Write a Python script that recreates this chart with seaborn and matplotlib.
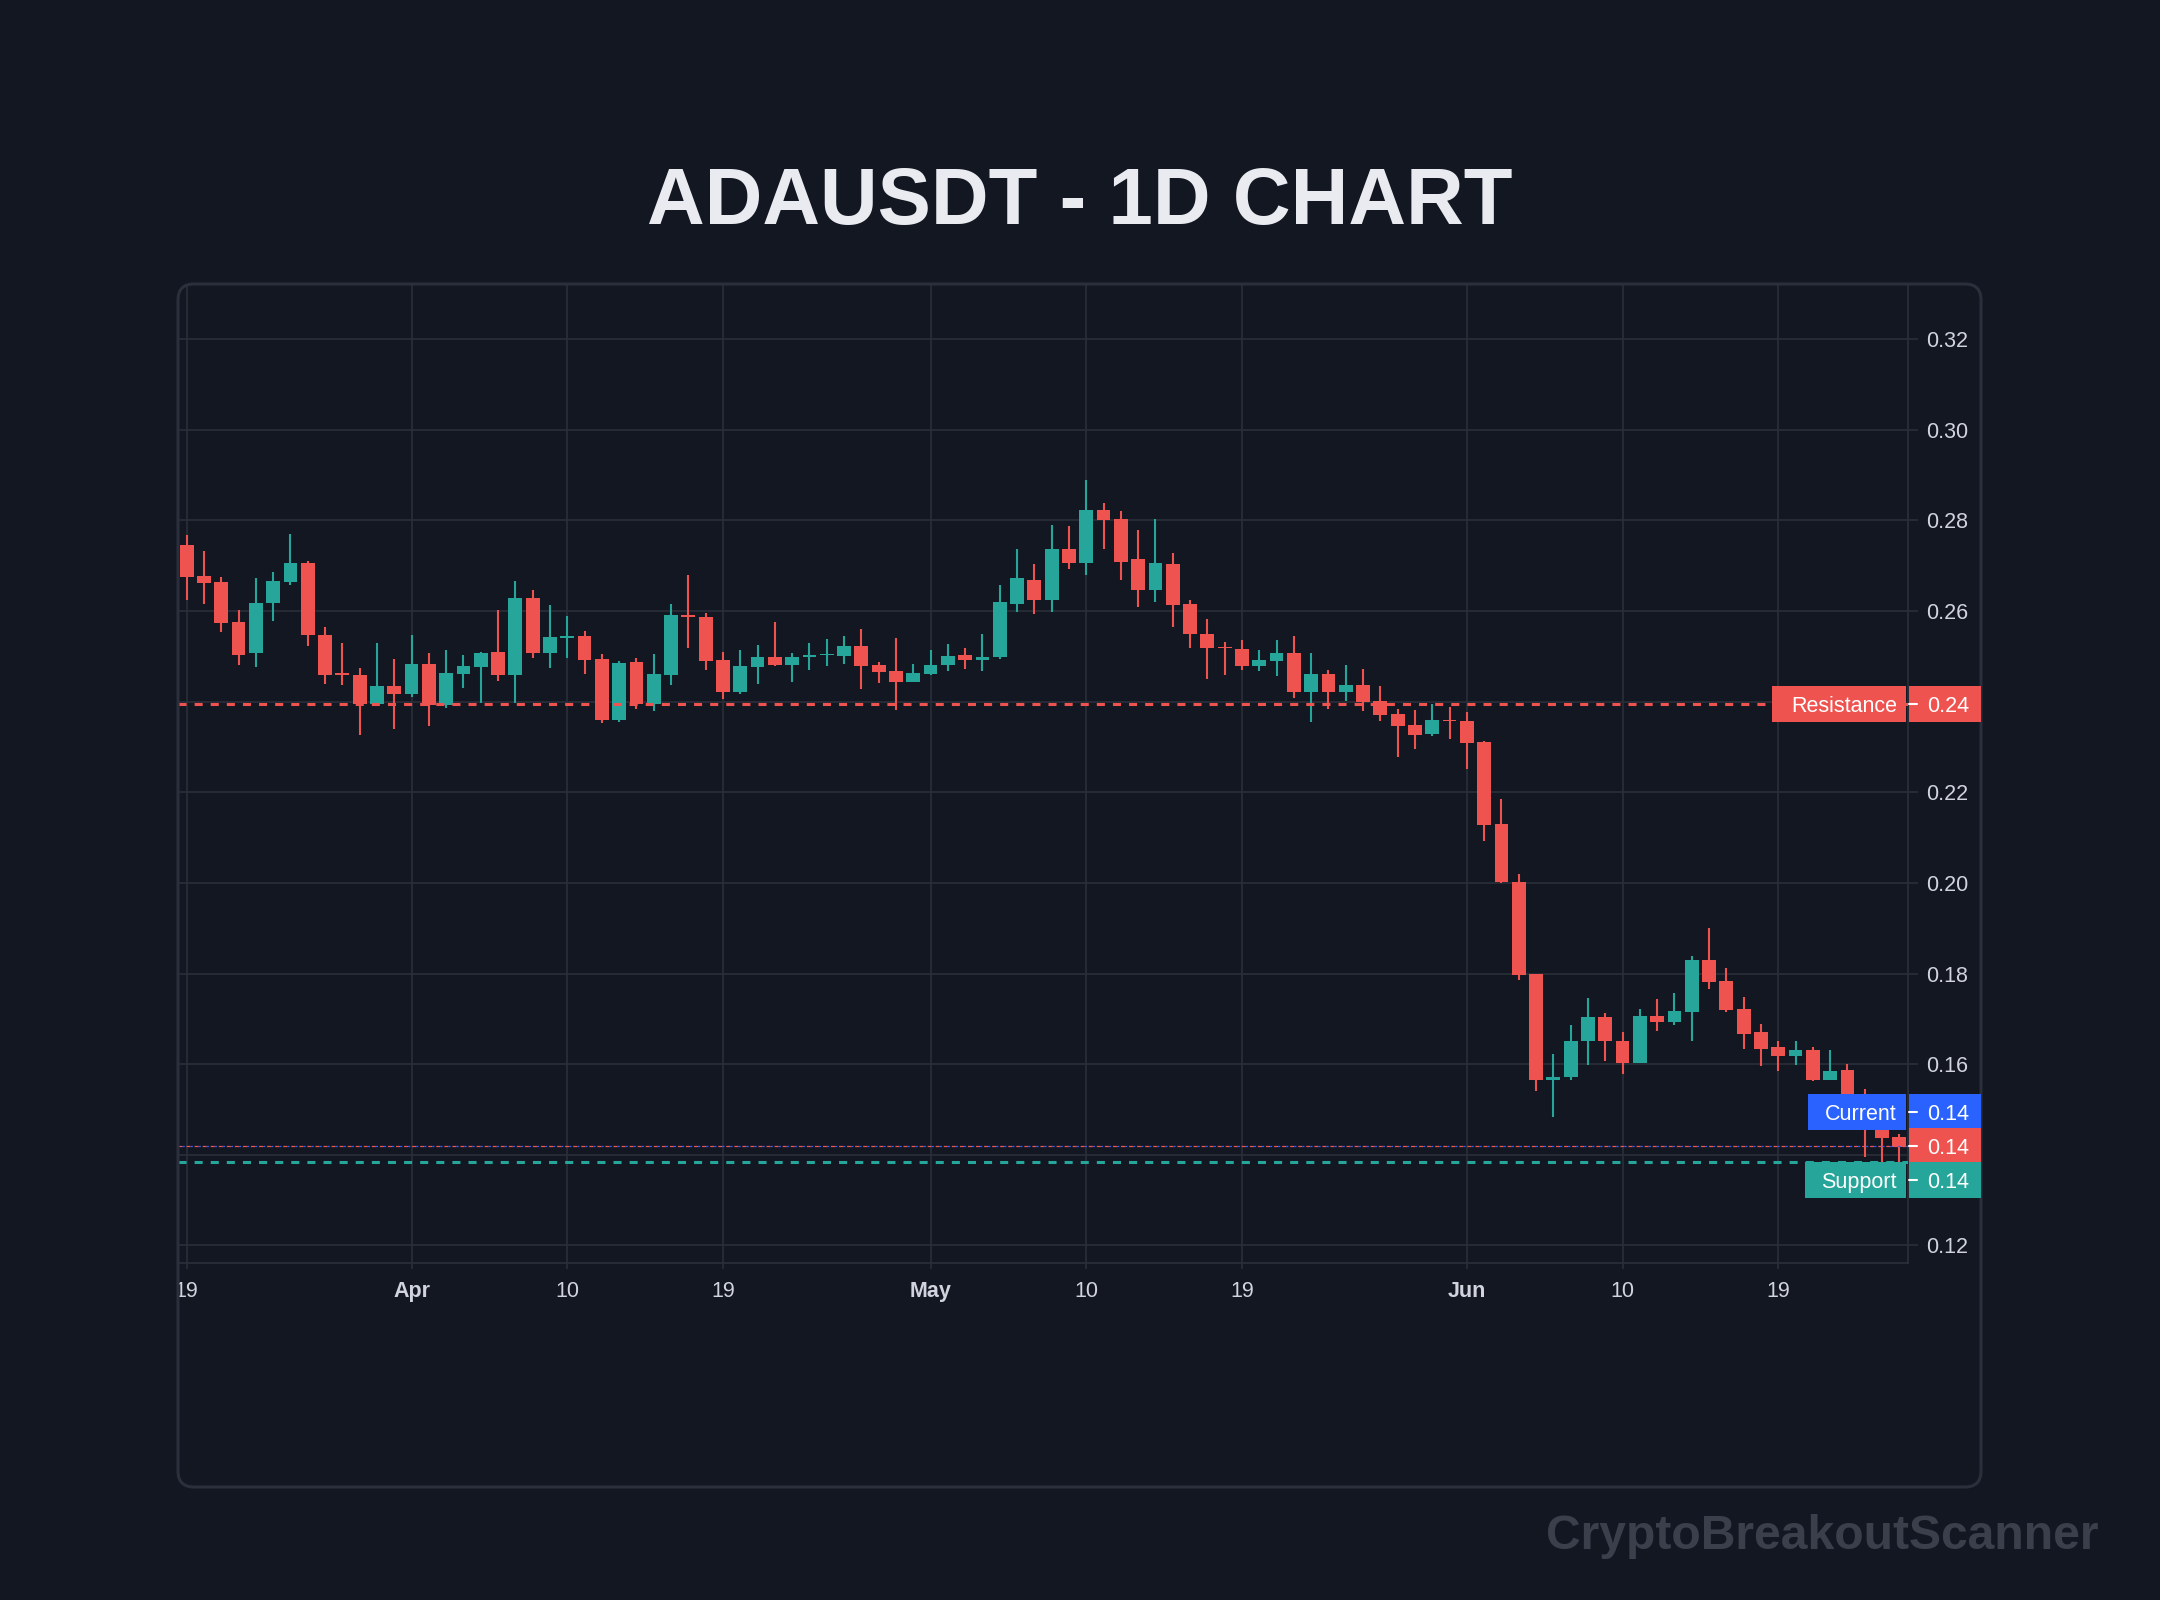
import numpy as np
import pandas as pd
import matplotlib
matplotlib.use("Agg")
import matplotlib.pyplot as plt
import matplotlib.dates as mdates
import seaborn as sns
from matplotlib.patches import FancyBboxPatch, Rectangle
from matplotlib.transforms import IdentityTransform, Bbox, TransformedBbox
from matplotlib.lines import Line2D

# ---------------- data ----------------
dates = pd.date_range("2023-03-19", "2023-06-26", freq="D")

opens = [0.2746, 0.2677, 0.2664, 0.2575, 0.2507, 0.2617, 0.2664, 0.2706, 0.2548, 0.2461,
         0.2459, 0.2395, 0.2435, 0.2417, 0.2484, 0.2393, 0.2462, 0.2477, 0.2510, 0.2459,
         0.2628, 0.2507, 0.2541, 0.2544, 0.2495, 0.2359, 0.2488, 0.2395, 0.2459, 0.2590,
         0.2587, 0.2492, 0.2421, 0.2477, 0.2499, 0.2481, 0.2499, 0.2502, 0.2501, 0.2523,
         0.2481, 0.2468, 0.2444, 0.2461, 0.2481, 0.2503, 0.2492, 0.2499, 0.2616, 0.2669,
         0.2625, 0.2736, 0.2707, 0.2824, 0.2804, 0.2714, 0.2647, 0.2705, 0.2616, 0.2550,
         0.2519, 0.2517, 0.2479, 0.2490, 0.2508, 0.2421, 0.2461, 0.2421, 0.2437, 0.2401,
         0.2373, 0.2348, 0.2328, 0.2359, 0.2357, 0.2311, 0.2130, 0.2003, 0.1798, 0.1564,
         0.1572, 0.1650, 0.1703, 0.1652, 0.1603, 0.1707, 0.1694, 0.1716, 0.1829, 0.1784,
         0.1722, 0.1670, 0.1637, 0.1619, 0.1632, 0.1564, 0.1586, 0.1513, 0.1478, 0.1439]
highs = [0.2768, 0.2733, 0.2675, 0.2602, 0.2673, 0.2686, 0.2771, 0.2710, 0.2564, 0.2530,
         0.2475, 0.2530, 0.2495, 0.2548, 0.2508, 0.2515, 0.2502, 0.2510, 0.2602, 0.2666,
         0.2646, 0.2613, 0.2590, 0.2555, 0.2506, 0.2490, 0.2497, 0.2506, 0.2616, 0.2680,
         0.2596, 0.2510, 0.2514, 0.2525, 0.2576, 0.2508, 0.2530, 0.2539, 0.2545, 0.2561,
         0.2488, 0.2541, 0.2483, 0.2514, 0.2528, 0.2519, 0.2550, 0.2658, 0.2738, 0.2705,
         0.2789, 0.2787, 0.2889, 0.2838, 0.2820, 0.2778, 0.2804, 0.2729, 0.2625, 0.2583,
         0.2532, 0.2537, 0.2514, 0.2537, 0.2545, 0.2508, 0.2470, 0.2481, 0.2472, 0.2435,
         0.2384, 0.2382, 0.2395, 0.2388, 0.2377, 0.2313, 0.2185, 0.2019, 0.1798, 0.1623,
         0.1687, 0.1745, 0.1712, 0.1670, 0.1721, 0.1743, 0.1758, 0.1838, 0.1900, 0.1813,
         0.1749, 0.1689, 0.1650, 0.1650, 0.1637, 0.1632, 0.1601, 0.1544, 0.1509, 0.1445]
lows = [0.2624, 0.2616, 0.2553, 0.2480, 0.2476, 0.2579, 0.2657, 0.2524, 0.2439, 0.2437,
        0.2326, 0.2392, 0.2339, 0.2410, 0.2346, 0.2386, 0.2430, 0.2397, 0.2446, 0.2397,
        0.2497, 0.2475, 0.2497, 0.2462, 0.2353, 0.2355, 0.2384, 0.2379, 0.2437, 0.2519,
        0.2470, 0.2406, 0.2417, 0.2439, 0.2479, 0.2444, 0.2470, 0.2479, 0.2483, 0.2428,
        0.2441, 0.2382, 0.2444, 0.2459, 0.2468, 0.2472, 0.2468, 0.2494, 0.2599, 0.2594,
        0.2599, 0.2694, 0.2680, 0.2738, 0.2669, 0.2610, 0.2621, 0.2565, 0.2519, 0.2450,
        0.2459, 0.2470, 0.2468, 0.2457, 0.2408, 0.2355, 0.2384, 0.2401, 0.2379, 0.2357,
        0.2277, 0.2295, 0.2324, 0.2317, 0.2251, 0.2092, 0.1999, 0.1785, 0.1541, 0.1484,
        0.1566, 0.1597, 0.1606, 0.1579, 0.1603, 0.1674, 0.1687, 0.1652, 0.1765, 0.1716,
        0.1634, 0.1595, 0.1584, 0.1597, 0.1562, 0.1564, 0.1491, 0.1395, 0.1381, 0.1384]
closes = [0.2676, 0.2662, 0.2573, 0.2504, 0.2617, 0.2666, 0.2706, 0.2547, 0.2459, 0.2460,
          0.2395, 0.2435, 0.2417, 0.2484, 0.2393, 0.2464, 0.2479, 0.2508, 0.2459, 0.2628,
          0.2507, 0.2542, 0.2542, 0.2493, 0.2359, 0.2486, 0.2395, 0.2461, 0.2592, 0.2588,
          0.2490, 0.2421, 0.2479, 0.2499, 0.2481, 0.2499, 0.2500, 0.2503, 0.2523, 0.2479,
          0.2466, 0.2444, 0.2463, 0.2481, 0.2501, 0.2492, 0.2499, 0.2621, 0.2672, 0.2625,
          0.2736, 0.2707, 0.2824, 0.2802, 0.2709, 0.2647, 0.2707, 0.2614, 0.2550, 0.2519,
          0.2518, 0.2479, 0.2492, 0.2508, 0.2421, 0.2461, 0.2421, 0.2437, 0.2400, 0.2370,
          0.2346, 0.2326, 0.2359, 0.2357, 0.2309, 0.2127, 0.2001, 0.1796, 0.1564, 0.1572,
          0.1652, 0.1703, 0.1650, 0.1603, 0.1707, 0.1694, 0.1718, 0.1829, 0.1782, 0.1720,
          0.1667, 0.1634, 0.1619, 0.1632, 0.1564, 0.1584, 0.1513, 0.1476, 0.1436, 0.1417]

resistance = 0.2396
support = 0.1384
current_price = 0.1419

x_tick_dates = ["2023-03-19", "2023-04-01", "2023-04-10", "2023-04-19", "2023-05-01",
                "2023-05-10", "2023-05-19", "2023-06-01", "2023-06-10", "2023-06-19"]
x_tick_labels = ["19", "Apr", "10", "19", "May", "10", "19", "Jun", "10", "19"]
month_labels = ["Apr", "May", "Jun"]
y_ticks = [0.12, 0.14, 0.16, 0.18, 0.20, 0.22, 0.24, 0.26, 0.28, 0.30, 0.32]
y_tick_labels = ["0.12", "0.14", "0.16", "0.18", "0.20", "0.22", "0.24", "0.26", "0.28", "0.30", "0.32"]
y_limits = (0.1161, 0.3322)

title = "ADAUSDT - 1D CHART"
watermark = "CryptoBreakoutScanner"
label_resistance = "Resistance"
label_current = "Current"
label_support = "Support"

# ---------------- style ----------------
W, H = 2160, 1600
BG = "#131722"
GRID = "#2a2e39"
BORDER = "#2b2f3b"
UP = "#26a69a"
DOWN = "#ef5350"
BLUE = "#2962ff"
TXT = "#d1d4dc"
FS = 15.5

sns.set_theme(style="dark", rc={"axes.facecolor": BG, "figure.facecolor": BG,
                                 "savefig.facecolor": BG, "lines.scale_dashes": False})
plt.rcParams["font.family"] = ["Liberation Sans", "DejaVu Sans"]

fig = plt.figure(figsize=(W / 100, H / 100), dpi=100, facecolor=BG)

# plot area (pixel layout)
L, R, T, B = 178, 1908, 284, 1263
ax = fig.add_axes([L / W, 1 - B / H, (R - L) / W, (B - T) / H])
ax.set_facecolor(BG)

xnum = mdates.date2num(dates)
o = np.array(opens); h = np.array(highs); lo = np.array(lows); c = np.array(closes)
cols = np.where(c >= o, UP, DOWN)

ax.vlines(xnum, lo, h, colors=cols, linewidth=1.5, zorder=3)
body_bottom = np.minimum(o, c)
body_h = np.maximum(np.abs(c - o), 0.0003)
ax.bar(xnum, body_h, bottom=body_bottom, width=0.8, color=cols, linewidth=0, zorder=4)

# price lines
ax.axhline(resistance, color=DOWN, lw=2.2, linestyle=(0, (5.8, 5.8)), zorder=5)
ax.axhline(support, color=UP, lw=2.2, linestyle=(0, (5.8, 5.8)), zorder=5)
ax.axhline(current_price, color=DOWN, lw=0.9, linestyle=(0, (2.9, 2.9)), zorder=5)
ax.axhline(current_price, color=BLUE, lw=0.9, linestyle=(2.9, (1.6, 4.2)), zorder=5)

ax.set_xlim(xnum[0] - 0.5, xnum[-1] + 0.5)
ax.set_ylim(*y_limits)

ax.set_xticks(mdates.date2num(pd.to_datetime(x_tick_dates)))
ax.set_xticklabels(x_tick_labels)
ax.set_yticks(y_ticks)
ax.set_yticklabels(y_tick_labels)
ax.yaxis.tick_right()

ax.grid(True, color=GRID, linewidth=1.2)
ax.set_axisbelow(True)
for s in ["top", "left"]:
    ax.spines[s].set_visible(False)
for s in ["right", "bottom"]:
    ax.spines[s].set_visible(True)
    ax.spines[s].set_color(GRID)
    ax.spines[s].set_linewidth(1.3)

ax.tick_params(axis="x", colors=TXT, labelsize=FS, length=4.3, width=1.2, color=GRID, pad=9,
               bottom=True)
ax.tick_params(axis="y", colors=TXT, labelsize=FS, length=7.2, width=1.2, color=GRID, pad=5.8,
               right=True, left=False)
ax.set_xlabel("")
ax.set_ylabel("")

clip = TransformedBbox(Bbox([[179, 0], [W, H]]), IdentityTransform())
for lbl in ax.get_xticklabels():
    if lbl.get_text() in month_labels:
        lbl.set_fontweight("bold")
    lbl.set_clip_box(clip)
    lbl.set_clip_on(True)

# card frame
card = FancyBboxPatch((L, H - 1487), 1981 - L, 1487 - T,
                      boxstyle="round,pad=0,rounding_size=16",
                      transform=IdentityTransform(), facecolor="none",
                      edgecolor=BORDER, linewidth=2.2, zorder=20)
fig.add_artist(card)

# ---------------- price labels ----------------
def py(v):
    return ax.transData.transform((xnum[0], v))[1]

BOX_H = 36
STEP = 34
AX_L, AX_R = 1909, 1981
box_centers = []


def axis_box(yc, color, text):
    box_centers.append(yc)
    fig.add_artist(Rectangle((AX_L, yc - BOX_H / 2), AX_R - AX_L, BOX_H,
                             transform=IdentityTransform(), facecolor=color,
                             edgecolor="none", zorder=30))
    fig.add_artist(Line2D([AX_L, AX_L + 8], [yc, yc], transform=IdentityTransform(),
                          color="white", linewidth=1.5, zorder=31))
    fig.text(1927 / W, yc / H, text, color="white", fontsize=FS, ha="left",
             va="center_baseline", zorder=32)


def label_box(yc, color, text, x_left):
    fig.add_artist(Rectangle((x_left, yc - BOX_H / 2), 1906 - x_left, BOX_H,
                             transform=IdentityTransform(), facecolor=color,
                             edgecolor="none", zorder=30))
    fig.text(1897 / W, yc / H, text, color="white", fontsize=FS, ha="right",
             va="center_baseline", zorder=32)


y_res = py(resistance)
label_box(y_res, DOWN, label_resistance, 1772)
axis_box(y_res, DOWN, f"{resistance:.2f}")

y_cur = py(current_price)
y_blue = y_cur + STEP
y_sup = min(py(support), y_cur - STEP)
label_box(y_blue, BLUE, label_current, 1808)
axis_box(y_blue, BLUE, f"{current_price:.2f}")
axis_box(y_cur, DOWN, f"{closes[-1]:.2f}")
label_box(y_sup, UP, label_support, 1805)
axis_box(y_sup, UP, f"{support:.2f}")

# axis tick labels hidden underneath a price box are not drawn twice
for tv, lbl in zip(y_ticks, ax.get_yticklabels()):
    if any(abs(py(tv) - bc) < BOX_H / 2 + 4 for bc in box_centers):
        lbl.set_visible(False)

# ---------------- texts ----------------
fig.text(0.5, 1 - 224 / H, title, ha="center", va="baseline", fontsize=57.5,
         fontweight="bold", color="#e9ebf0")
fig.text(2099 / W, 1 - 1549 / H, watermark, ha="right", va="baseline", fontsize=34.6,
         fontweight="bold", color="#3b3f4b")

fig.savefig("out.png", dpi=100, facecolor=BG)
